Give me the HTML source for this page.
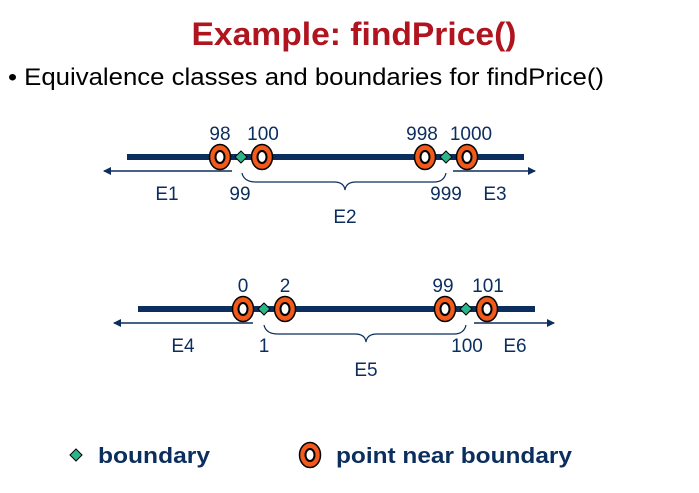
<!DOCTYPE html>
<html><head><style>body{margin:0;background:#fff}svg{display:block}</style></head><body>
<svg width="699" height="493" viewBox="0 0 699 493" xmlns="http://www.w3.org/2000/svg" font-family="Liberation Sans, sans-serif">
<defs>
<marker id="ar" markerWidth="8" markerHeight="8" refX="7" refY="4" orient="auto" markerUnits="userSpaceOnUse"><path d="M0,0 L8,4 L0,8 Z" fill="#0b2e5e"/></marker>
<g id="circ"><ellipse rx="10.5" ry="12.5" fill="#f25a1c" stroke="#000" stroke-width="1.5"/><ellipse rx="4.5" ry="6" fill="#fff" stroke="#000" stroke-width="2"/></g>
<g id="dia"><path d="M0,-6 L6,0 L0,6 L-6,0 Z" fill="#2bb58a" stroke="#000" stroke-width="1"/></g>
</defs>
<text x="354" y="45" text-anchor="middle" font-size="32" font-weight="bold" fill="#b0141e" textLength="325" lengthAdjust="spacingAndGlyphs">Example: findPrice()</text>
<text x="8" y="85" font-size="24" fill="#000" textLength="596" lengthAdjust="spacingAndGlyphs">• Equivalence classes and boundaries for findPrice()</text>

<g fill="#0b2e5e" font-size="19" text-anchor="middle">
<line x1="127" y1="157" x2="524" y2="157" stroke="#0b2e5e" stroke-width="6"/>
<line x1="232" y1="171" x2="104" y2="171" stroke="#0b2e5e" stroke-width="1.5" marker-end="url(#ar)"/>
<line x1="453" y1="171" x2="535" y2="171" stroke="#0b2e5e" stroke-width="1.5" marker-end="url(#ar)"/>
<path d="M242,173 Q244,182 256,182 L334,182 Q344,182 345,190 Q346,182 356,182 L434,182 Q444,182 446,173" fill="none" stroke="#0b2e5e" stroke-width="1.2"/>
<use href="#circ" x="220" y="157"/><use href="#circ" x="262" y="157"/><use href="#circ" x="425" y="157"/><use href="#circ" x="467" y="157"/>
<use href="#dia" x="241" y="157"/><use href="#dia" x="446" y="157"/>
<text x="220" y="140">98</text><text x="263" y="140">100</text><text x="422" y="140">998</text><text x="471" y="140">1000</text>
<text x="167" y="200">E1</text><text x="240" y="200">99</text><text x="446" y="200">999</text><text x="495" y="200">E3</text><text x="345" y="223">E2</text>

<line x1="138" y1="309" x2="535" y2="309" stroke="#0b2e5e" stroke-width="6"/>
<line x1="253" y1="323" x2="114" y2="323" stroke="#0b2e5e" stroke-width="1.5" marker-end="url(#ar)"/>
<line x1="474" y1="323" x2="554" y2="323" stroke="#0b2e5e" stroke-width="1.5" marker-end="url(#ar)"/>
<path d="M264,325 Q266,334 278,334 L355,334 Q365,334 366,342 Q367,334 377,334 L454,334 Q464,334 466,325" fill="none" stroke="#0b2e5e" stroke-width="1.2"/>
<use href="#circ" x="243" y="309"/><use href="#circ" x="285" y="309"/><use href="#circ" x="445" y="309"/><use href="#circ" x="487" y="309"/>
<use href="#dia" x="264" y="309"/><use href="#dia" x="466" y="309"/>
<text x="243" y="292">0</text><text x="285" y="292">2</text><text x="443" y="292">99</text><text x="488" y="292">101</text>
<text x="183" y="352">E4</text><text x="264" y="352">1</text><text x="467" y="352">100</text><text x="515" y="352">E6</text><text x="366" y="376">E5</text>
</g>

<use href="#dia" x="76" y="455"/>
<text x="98" y="463" font-size="22" font-weight="bold" fill="#0b2e5e" textLength="112" lengthAdjust="spacingAndGlyphs">boundary</text>
<use href="#circ" x="310" y="455"/>
<text x="336" y="463" font-size="22" font-weight="bold" fill="#0b2e5e" textLength="236" lengthAdjust="spacingAndGlyphs">point near boundary</text>
</svg>
</body></html>
